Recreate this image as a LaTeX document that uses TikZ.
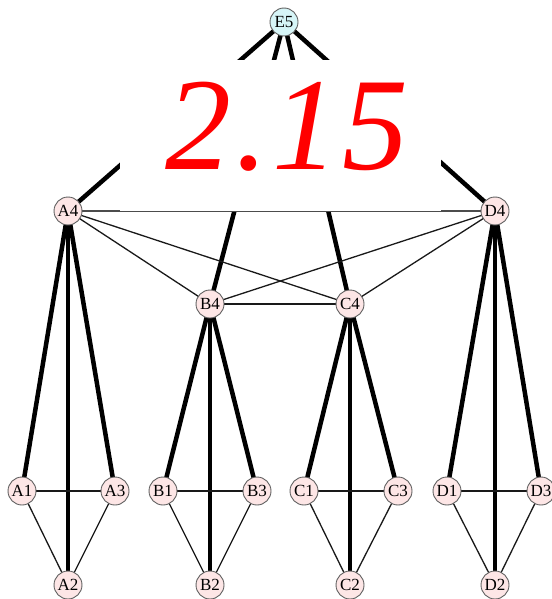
\documentclass[tikz,border=0pt]{standalone}
\usepackage{fontspec}
\newfontfamily\labelfont{Liberation Serif}
\definecolor{nodepink}{HTML}{FDE6E6}
\definecolor{nodecyan}{HTML}{D6F5F7}
\definecolor{rimgray}{HTML}{606060}
\begin{document}
\begin{tikzpicture}[x=1pt,y=-1pt,
  vx/.style={circle,draw=rimgray,line width=0.9pt,fill=nodepink,minimum size=28pt,inner sep=0pt,font=\labelfont\fontsize{17}{17}\selectfont},
  top/.style={vx,fill=nodecyan},
  heavy/.style={line width=4.5pt,black},
  light/.style={line width=1.3pt,black!90},
  faint/.style={line width=1.2pt,black!70}]
\useasboundingbox (0,0) rectangle (551,599);
\fill[white] (0,0) rectangle (551,599);
% coordinates
\coordinate (pE5) at (284,22);
\coordinate (pA4) at (68,211);
\coordinate (pD4) at (495,211);
\coordinate (pB4) at (210,304);
\coordinate (pC4) at (350,304);
\coordinate (pA1) at (22,491);
\coordinate (pA3) at (115,491);
\coordinate (pA2) at (68,585);
\coordinate (pB1) at (163,491);
\coordinate (pB3) at (257,491);
\coordinate (pB2) at (210,585);
\coordinate (pC1) at (304,491);
\coordinate (pC3) at (398,491);
\coordinate (pC2) at (350,585);
\coordinate (pD1) at (447,491);
\coordinate (pD3) at (541,491);
\coordinate (pD2) at (495,585);
% edges
\foreach \x in {A4,B4,C4,D4} \draw[heavy] (pE5) -- (p\x);
\draw[faint] (pA4) -- (pD4);
\draw[light] (pA4) -- (pB4);
\draw[light] (pA4) -- (pC4);
\draw[light] (pD4) -- (pB4);
\draw[light] (pD4) -- (pC4);
\draw[light] (pB4) -- (pC4);
\foreach \g in {A,B,C,D}{
  \draw[heavy] (p\g4) -- (p\g1);
  \draw[heavy] (p\g4) -- (p\g2);
  \draw[heavy] (p\g4) -- (p\g3);
  \draw[light] (p\g1) -- (p\g3);
  \draw[light] (p\g1) -- (p\g2);
  \draw[light] (p\g3) -- (p\g2);
}
% white mask
\fill[white] (120,60) rectangle (441,210.9);
% nodes
\node[top] (E5) at (pE5) {E5};
\foreach \g in {A,B,C,D}{
  \foreach \i in {1,2,3,4}{
    \node[vx] (\g\i) at (p\g\i) {\g\i};
  }
}
\node[anchor=base,text=red,inner sep=0pt,font=\labelfont\fontsize{132}{132}\selectfont\itshape] (lbl) at (287,169) {2\kern4pt.\kern4pt1\kern4pt5};
\end{tikzpicture}
\end{document}
